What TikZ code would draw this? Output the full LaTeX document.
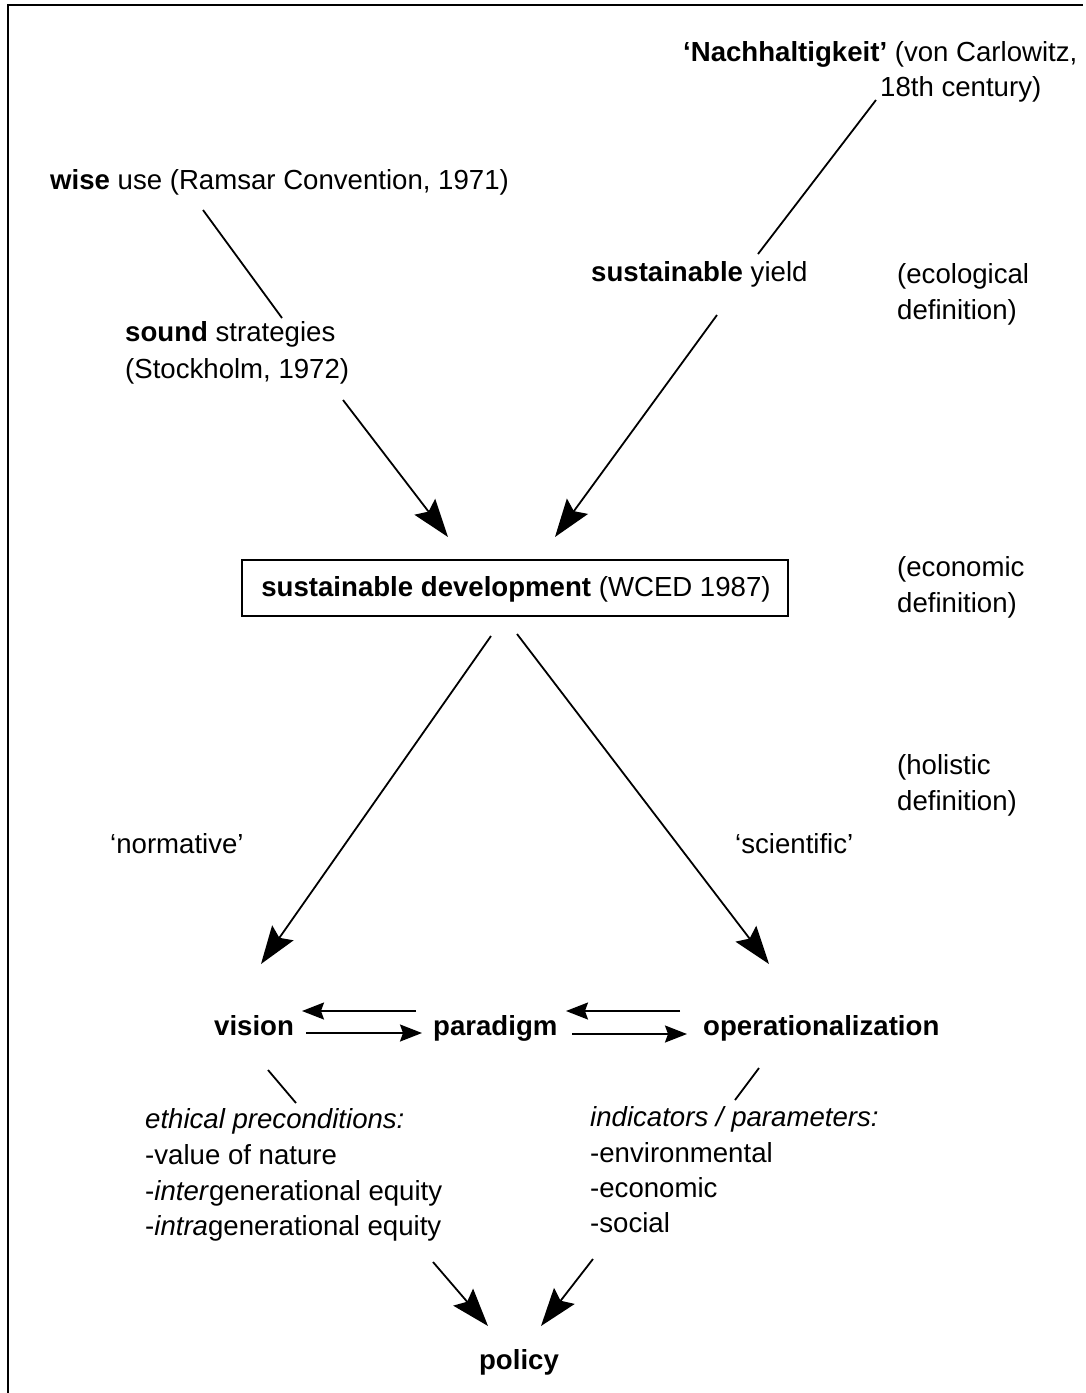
\documentclass[tikz,border=0pt]{standalone}
\usepackage{fontspec}
\setmainfont{Liberation Sans}
\usetikzlibrary{arrows.meta}
\begin{document}
\begin{tikzpicture}[x=1pt,y=-1pt,
  txt/.style={inner sep=0pt,anchor=base west,font=\fontsize{27.6}{32}\selectfont},
  ctxt/.style={inner sep=0pt,anchor=base,font=\fontsize{27.6}{32}\selectfont},
  plain/.style={line width=1.8pt},
  bigarrow/.style={line width=1.8pt,-{Stealth[length=38pt,width=26pt,inset=6pt]}},
  smallarrow/.style={line width=1.8pt,-{Stealth[length=22pt,width=17pt,inset=3pt]}},
  framebox/.style={draw,line width=2pt,minimum width=546pt,minimum height=56pt,inner sep=0pt}]
\useasboundingbox (0,0) rectangle (1086,1393);
% frame (left and top edges)
\draw[line width=2pt] (8,1393) -- (8,5) -- (1083,5);
% texts
\node[txt] (nach1) at (683,61) {\textbf{‘Nachhaltigkeit’} (von Carlowitz,};
\node[txt] (nach2) at (880,96) {18th century)};
\node[txt] (wise) at (50,189) {\textbf{wise} use (Ramsar Convention, 1971)};
\node[txt] (sound1) at (125,341) {\textbf{sound} strategies};
\node[txt] (sound2) at (125,378) {(Stockholm, 1972)};
\node[txt] (yield) at (591,281) {\textbf{sustainable} yield};
\node[txt] (eco1) at (897,283) {(ecological};
\node[txt] (eco2) at (897,319) {definition)};
\node[framebox] (sd) at (515,588) {};
\node[ctxt] (sdtext) at (516,596) {\textbf{sustainable development} (WCED 1987)};
\node[txt] (econ1) at (897,576) {(economic};
\node[txt] (econ2) at (897,612) {definition)};
\node[txt] (hol1) at (897,774) {(holistic};
\node[txt] (hol2) at (897,810) {definition)};
\node[txt] (norm) at (110,853) {‘normative’};
\node[txt] (sci) at (735,853) {‘scientific’};
\node[txt] (vision) at (214,1035) {\textbf{vision}};
\node[txt] (paradigm) at (433,1035) {\textbf{paradigm}};
\node[txt] (oper) at (703,1035) {\textbf{operationalization}};
\node[txt] (eth1) at (145,1128) {\textit{ethical preconditions:}};
\node[txt] (eth2) at (145,1164) {-value of nature};
\node[txt] (eth3) at (145,1200) {-\textit{inter}generational equity};
\node[txt] (eth4) at (145,1235) {-\textit{intra}generational equity};
\node[txt] (ind1) at (590,1126) {\textit{indicators / parameters:}};
\node[txt] (ind2) at (590,1162) {-environmental};
\node[txt] (ind3) at (590,1197) {-economic};
\node[txt] (ind4) at (590,1232) {-social};
\node[ctxt] (policy) at (519,1369) {\textbf{policy}};
% connector end points
\coordinate (nachA) at (876,100);
\coordinate (nachB) at (758,254);
\coordinate (wiseA) at (203,210);
\coordinate (wiseB) at (282,318);
\coordinate (soundA) at (343,400);
\coordinate (soundB) at (448,537);
\coordinate (yieldA) at (717,315);
\coordinate (yieldB) at (555,537);
\coordinate (sdL) at (491,636);
\coordinate (visTip) at (261,964);
\coordinate (sdR) at (517,634);
\coordinate (opTip) at (769,964);
\coordinate (vpU1) at (416,1011);
\coordinate (vpU2) at (302,1011);
\coordinate (vpD1) at (306,1033);
\coordinate (vpD2) at (422,1033);
\coordinate (poU1) at (680,1011);
\coordinate (poU2) at (566,1011);
\coordinate (poD1) at (572,1034);
\coordinate (poD2) at (687,1034);
\coordinate (visA) at (268,1070);
\coordinate (visB) at (296,1103);
\coordinate (opA) at (759,1068);
\coordinate (opB) at (735,1100);
\coordinate (ethA) at (433,1262);
\coordinate (polL) at (488,1326);
\coordinate (indA) at (593,1259);
\coordinate (polR) at (541,1326);
% connectors
\draw[plain] (nachA) -- (nachB);
\draw[plain] (wiseA) -- (wiseB);
\draw[bigarrow] (soundA) -- (soundB);
\draw[bigarrow] (yieldA) -- (yieldB);
\draw[bigarrow] (sdL) -- (visTip);
\draw[bigarrow] (sdR) -- (opTip);
\draw[smallarrow] (vpU1) -- (vpU2);
\draw[smallarrow] (vpD1) -- (vpD2);
\draw[smallarrow] (poU1) -- (poU2);
\draw[smallarrow] (poD1) -- (poD2);
\draw[plain] (visA) -- (visB);
\draw[plain] (opA) -- (opB);
\draw[bigarrow] (ethA) -- (polL);
\draw[bigarrow] (indA) -- (polR);
\end{tikzpicture}
\end{document}
